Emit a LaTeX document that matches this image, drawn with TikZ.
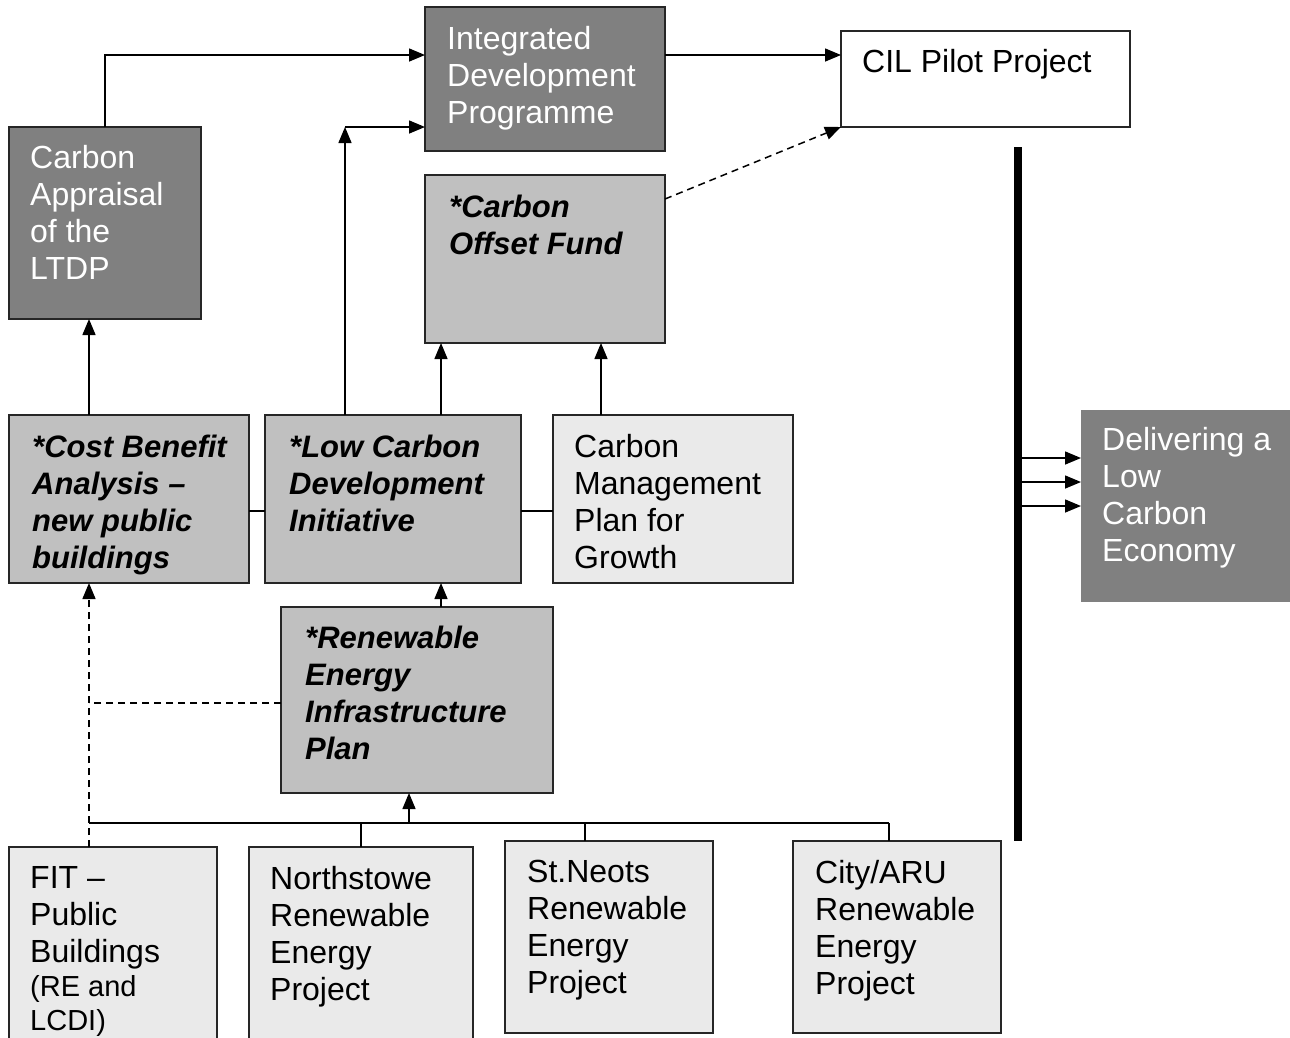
\documentclass[tikz,border=0pt]{standalone}
\usepackage{fontspec}
\setmainfont{Liberation Sans}
\usetikzlibrary{arrows.meta}
\definecolor{dkg}{HTML}{808080}
\definecolor{mdg}{HTML}{C0C0C0}
\definecolor{ltg}{HTML}{EAEAEA}
\begin{document}
\begin{tikzpicture}[x=1pt,y=-1pt,
  box/.style={draw=black!85,line width=1.6pt,anchor=north west,inner sep=0pt,outer sep=0pt},
  txt/.style={anchor=north west,inner sep=0pt,align=left,font=\fontsize{32}{37}\selectfont},
  txtw/.style={txt,text=white},
  txtb/.style={txt,font=\fontsize{31}{37}\selectfont\bfseries\itshape},
  arr/.style={line width=1.5pt,-{Triangle[length=16pt,width=13pt]}},
  con/.style={line width=1.5pt},
  dsh/.style={line width=1.5pt,dash pattern=on 7pt off 5pt}]
\useasboundingbox (0,0) rectangle (1290,1037);
\clip (0,0) rectangle (1290,1037);
% boxes
\node[box,fill=dkg,minimum width=192,minimum height=192] (ca) at (9,127) {};
\node[box,fill=dkg,minimum width=240,minimum height=144] (idp) at (425,7) {};
\node[box,fill=white,minimum width=289,minimum height=96] (cil) at (841,31) {};
\node[box,fill=mdg,minimum width=240,minimum height=168] (cof) at (425,175) {};
\node[box,fill=mdg,minimum width=240,minimum height=168] (cba) at (9,415) {};
\node[box,fill=mdg,minimum width=256,minimum height=168] (lcdi) at (265,415) {};
\node[box,fill=ltg,minimum width=240,minimum height=168] (cmp) at (553,415) {};
\node[box,fill=mdg,minimum width=272,minimum height=186] (reip) at (281,607) {};
\node[box,fill=ltg,minimum width=208,minimum height=220] (fit) at (9,847) {};
\node[box,fill=ltg,minimum width=224,minimum height=220] (nor) at (249,847) {};
\node[box,fill=ltg,minimum width=208,minimum height=192] (stn) at (505,841) {};
\node[box,fill=ltg,minimum width=208,minimum height=192] (city) at (793,841) {};
\node[anchor=north west,inner sep=0pt,outer sep=0pt,fill=dkg,minimum width=215,minimum height=192] (del) at (1081,410) {};
\node[anchor=north,inner sep=0pt,outer sep=0pt,fill=black,minimum width=8,minimum height=694] (bar) at (1018,147) {};
% texts
\node[txtw] (cat) at ([shift={(21pt,-18pt)}]ca.north west) {Carbon\\Appraisal\\of the\\LTDP};
\node[txtw] (idpt) at ([shift={(22pt,-19pt)}]idp.north west) {Integrated\\Development\\Programme};
\node[txt] (cilt) at ([shift={(21pt,-18pt)}]cil.north west) {CIL Pilot Project};
\node[txtb] (coft) at ([shift={(24pt,-20pt)}]cof.north west) {*Carbon\\Offset Fund};
\node[txtb] (cbat) at ([shift={(23pt,-20pt)}]cba.north west) {*Cost Benefit\\Analysis –\\new public\\buildings};
\node[txtb] (lcdit) at ([shift={(24pt,-20pt)}]lcdi.north west) {*Low Carbon\\Development\\Initiative};
\node[txt] (cmpt) at ([shift={(21pt,-19pt)}]cmp.north west) {Carbon\\Management\\Plan for\\Growth};
\node[txtb] (reipt) at ([shift={(24pt,-19pt)}]reip.north west) {*Renewable\\Energy\\Infrastructure\\Plan};
\node[txt] (fitt) at ([shift={(21pt,-19pt)}]fit.north west) {FIT –\\Public\\Buildings\\[-3pt]\fontsize{29}{34}\selectfont(RE and\\[-3pt]\fontsize{29}{34}\selectfont LCDI)};
\node[txt] (nort) at ([shift={(21pt,-19pt)}]nor.north west) {Northstowe\\Renewable\\Energy\\Project};
\node[txt] (stnt) at ([shift={(22pt,-19pt)}]stn.north west) {St.Neots\\Renewable\\Energy\\Project};
\node[txt] (cityt) at ([shift={(22pt,-19pt)}]city.north west) {City/ARU\\Renewable\\Energy\\Project};
\node[txtw] (delt) at ([shift={(21pt,-17pt)}]del.north west) {Delivering a\\Low\\Carbon\\Economy};
% connectors
\draw[arr] (ca.north) |- ([yshift=-48pt]idp.north west);
\coordinate (jn) at (345,127);
\draw[arr] ([xshift=80pt]lcdi.north west) -- (jn);
\draw[arr] (jn) -- (jn -| idp.west);
\draw[arr] ([yshift=-48pt]idp.north east) -- ([yshift=-24pt]cil.north west);
\draw[dsh,-{Triangle[length=16pt,width=13pt]}] ([yshift=-24pt]cof.north east) -- (cil.south west);
\draw[arr] ([xshift=80pt]cba.north west) -- ([xshift=80pt]ca.south west);
\draw[arr] ([xshift=176pt]lcdi.north west) -- ([xshift=16pt]cof.south west);
\draw[arr] ([xshift=48pt]cmp.north west) -- ([xshift=176pt]cof.south west);
\draw[con] ([yshift=-96pt]cba.north east) -- ([yshift=-96pt]lcdi.north west);
\draw[con] ([yshift=-96pt]lcdi.north east) -- ([yshift=-96pt]cmp.north west);
\draw[arr] ([xshift=160pt]reip.north west) -- ([xshift=176pt]lcdi.south west);
\draw[dsh,-{Triangle[length=16pt,width=13pt]}] ([xshift=80pt]fit.north west) -- ([xshift=80pt]cba.south west);
\draw[dsh] ([yshift=-96pt]reip.north west) -- ++(-192,0);
\coordinate (busL) at (89,823);
\coordinate (busR) at (889,823);
\draw[con] (busL) -- (busR);
\draw[con] (nor.north) -- (nor.north |- busL);
\coordinate (stnj) at ([xshift=80pt]stn.north west);
\draw[con] (stnj) -- (stnj |- busL);
\coordinate (cityj) at ([xshift=96pt]city.north west);
\draw[con] (cityj) -- (cityj |- busL);
\coordinate (rb) at ([xshift=128pt]reip.south west);
\draw[arr] (rb |- busL) -- (rb);
\draw[arr] (bar.east |- 0,458) -- (del.west |- 0,458);
\draw[arr] (bar.east |- 0,482) -- (del.west |- 0,482);
\draw[arr] (bar.east |- 0,506) -- (del.west |- 0,506);
\end{tikzpicture}
\end{document}
